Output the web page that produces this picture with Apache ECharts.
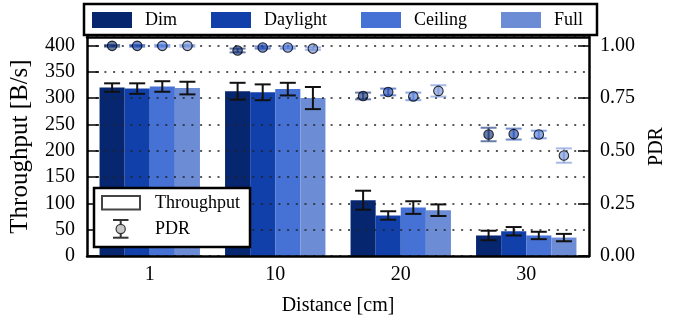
<!DOCTYPE html>
<html><head><meta charset="utf-8">
<script src="https://cdn.jsdelivr.net/npm/echarts@6/dist/echarts.min.js"></script>
<style>html,body{margin:0;padding:0;background:#fff}#c{width:675px;height:324px}</style>
</head><body><div id="c"></div>
<script>
const categories = ['1', '10', '20', '30'];
const seriesNames = ['Dim', 'Daylight', 'Ceiling', 'Full'];
const colors = ['#06266F', '#1240AB', '#4671D5', '#6C8CD5'];

const thrDim = [320, 313, 106, 39];
const thrDimErr = [8, 16, 18, 9];
const thrDaylight = [318, 311, 77, 47];
const thrDaylightErr = [10, 15, 8, 8];
const thrCeiling = [322, 317, 92, 39];
const thrCeilingErr = [10, 12, 12, 7];
const thrFull = [319, 300, 87, 35];
const thrFullErr = [12, 21, 11, 7];

const pdrDim = [0.998, 0.976, 0.760, 0.577];
const pdrDimErr = [0.004, 0.009, 0.016, 0.032];
const pdrDaylight = [0.998, 0.990, 0.779, 0.579];
const pdrDaylightErr = [0.004, 0.005, 0.016, 0.026];
const pdrCeiling = [0.998, 0.990, 0.758, 0.577];
const pdrCeilingErr = [0.004, 0.005, 0.018, 0.018];
const pdrFull = [0.998, 0.985, 0.784, 0.477];
const pdrFullErr = [0.004, 0.006, 0.027, 0.034];

const leftTicks = [0, 50, 100, 150, 200, 250, 300, 350, 400];
const rightTicks = [0, 0.25, 0.5, 0.75, 1.0];

const thr = [thrDim, thrDaylight, thrCeiling, thrFull];
const thrErr = [thrDimErr, thrDaylightErr, thrCeilingErr, thrFullErr];
const pdr = [pdrDim, pdrDaylight, pdrCeiling, pdrFull];
const pdrErr = [pdrDimErr, pdrDaylightErr, pdrCeilingErr, pdrFullErr];

const FONT = "'Liberation Serif', 'Times New Roman', serif";
const barFrac = 0.2;
function xpos(g, i) { return g + (i - 1.5) * barFrac; }

function hexA(hex, a) {
  const n = parseInt(hex.slice(1), 16);
  return 'rgba(' + ((n >> 16) & 255) + ',' + ((n >> 8) & 255) + ',' + (n & 255) + ',' + a + ')';
}

function errRender(color, lw, cap) {
  return function (params, api) {
    const x = api.value(0), v = api.value(1), e = api.value(2);
    const hi = api.coord([x, v + e]);
    const lo = api.coord([x, v - e]);
    const st = { stroke: color, lineWidth: lw };
    return {
      type: 'group',
      children: [
        { type: 'line', shape: { x1: hi[0], y1: hi[1], x2: lo[0], y2: lo[1] }, style: st },
        { type: 'line', shape: { x1: hi[0] - cap, y1: hi[1], x2: hi[0] + cap, y2: hi[1] }, style: st },
        { type: 'line', shape: { x1: lo[0] - cap, y1: lo[1], x2: lo[0] + cap, y2: lo[1] }, style: st }
      ]
    };
  };
}

const series = [];
seriesNames.forEach((name, i) => {
  series.push({
    name: name, type: 'bar', xAxisIndex: 0, yAxisIndex: 0,
    data: thr[i], barGap: 0, barCategoryGap: '20%',
    itemStyle: { color: colors[i] }, z: 2
  });
});
seriesNames.forEach((name, i) => {
  series.push({
    type: 'custom', xAxisIndex: 1, yAxisIndex: 0, z: 4,
    renderItem: errRender('#111', 2, 8),
    data: thr[i].map((v, g) => [xpos(g, i), v, thrErr[i][g]]),
    silent: true
  });
});
seriesNames.forEach((name, i) => {
  series.push({
    type: 'custom', xAxisIndex: 1, yAxisIndex: 1, z: 5,
    renderItem: errRender(hexA(colors[i], 0.6), 2, 8),
    data: pdr[i].map((v, g) => [xpos(g, i), v, pdrErr[i][g]]),
    silent: true
  });
  series.push({
    type: 'scatter', xAxisIndex: 1, yAxisIndex: 1, z: 6,
    symbol: 'circle', symbolSize: 9.5,
    itemStyle: { color: hexA(colors[i], 0.75), borderColor: '#000', borderWidth: 1.1 },
    data: pdr[i].map((v, g) => [xpos(g, i), v]),
    silent: true
  });
});

const GZ = 20;
const chart = echarts.init(document.getElementById('c'), null, { renderer: 'canvas' });
chart.setOption({
  animation: false,
  backgroundColor: '#fff',
  textStyle: { fontFamily: FONT },
  grid: { left: 85, right: 78, top: 37, bottom: 68, containLabel: false },
  legend: {
    data: seriesNames, left: 92, top: 11, orient: 'horizontal',
    itemWidth: 40, itemHeight: 16, itemGap: 34,
    icon: 'rect', padding: 0,
    textStyle: { fontFamily: FONT, fontSize: 18, color: '#000', padding: [0, 0, 0, 8] },
    selectedMode: false, z: 30
  },
  xAxis: [
    {
      type: 'category', data: categories, position: 'bottom', boundaryGap: true, z: 3,
      axisLine: { onZero: false, lineStyle: { color: '#000', width: 2.5 } },
      axisTick: { inside: true, alignWithLabel: true, length: 10, lineStyle: { color: '#000', width: 1.5 } },
      axisLabel: { fontFamily: FONT, fontSize: 20, color: '#000', margin: 9 },
      name: 'Distance [cm]', nameLocation: 'middle', nameGap: 40,
      nameTextStyle: { fontFamily: FONT, fontSize: 20, color: '#000' }
    },
    {
      type: 'value', min: -0.5, max: 3.5, position: 'top', z: 3,
      axisLine: { show: true, onZero: false, lineStyle: { color: '#000', width: 2.5 } },
      axisTick: { show: false }, axisLabel: { show: false }, splitLine: { show: false }
    }
  ],
  yAxis: [
    {
      type: 'value', min: 0, max: 416, interval: 50, position: 'left', z: 3,
      axisLine: { show: true, onZero: false, lineStyle: { color: '#000', width: 2.5 } },
      axisTick: { inside: true, length: 12, lineStyle: { color: '#000', width: 1.5 } },
      axisLabel: {
        fontFamily: FONT, fontSize: 20, color: '#000', margin: 12, showMaxLabel: false,
        formatter: v => (leftTicks.indexOf(v) >= 0 ? String(v) : '')
      },
      splitLine: { show: true, lineStyle: { color: '#222', width: 1.6, type: [2, 6.7] } },
      name: 'Throughput [B/s]', nameLocation: 'middle', nameGap: 54, nameRotate: 90,
      nameTextStyle: { fontFamily: FONT, fontSize: 25, color: '#000' }
    },
    {
      type: 'value', min: 0, max: 1.04, interval: 0.25, position: 'right', z: 3,
      axisLine: { show: true, onZero: false, lineStyle: { color: '#000', width: 2.5 } },
      axisTick: { inside: true, length: 11, lineStyle: { color: '#000', width: 1.5 } },
      axisLabel: {
        fontFamily: FONT, fontSize: 20, color: '#000', margin: 11, showMaxLabel: false,
        formatter: v => (rightTicks.indexOf(v) >= 0 ? v.toFixed(2) : '')
      },
      splitLine: { show: false },
      name: 'PDR', nameLocation: 'middle', nameGap: 58, nameRotate: 90,
      nameTextStyle: { fontFamily: FONT, fontSize: 20, color: '#000' }
    }
  ],
  graphic: [
    { type: 'rect', z: GZ, shape: { x: 84, y: 4, width: 513, height: 31 },
      style: { fill: '#fff', stroke: '#000', lineWidth: 2.5 } },
    { type: 'rect', z: GZ, shape: { x: 94, y: 188, width: 156, height: 59 },
      style: { fill: '#fff', stroke: '#000', lineWidth: 2.5 } },
    { type: 'rect', z: GZ + 1, shape: { x: 102, y: 196, width: 38, height: 13.5 },
      style: { fill: '#fff', stroke: '#444', lineWidth: 2 } },
    { type: 'text', z: GZ + 1, style: { x: 155, y: 203, text: 'Throughput', fontFamily: FONT, fontSize: 18,
      fill: '#000', verticalAlign: 'middle', align: 'left' } },
    { type: 'line', z: GZ + 1, shape: { x1: 120.7, y1: 220, x2: 120.7, y2: 237.7 }, style: { stroke: '#333', lineWidth: 2 } },
    { type: 'line', z: GZ + 1, shape: { x1: 113, y1: 220, x2: 128.5, y2: 220 }, style: { stroke: '#333', lineWidth: 2 } },
    { type: 'line', z: GZ + 1, shape: { x1: 113, y1: 237.7, x2: 128.5, y2: 237.7 }, style: { stroke: '#333', lineWidth: 2 } },
    { type: 'circle', z: GZ + 2, shape: { cx: 120.7, cy: 229, r: 4.6 }, style: { fill: '#c8c8c8', stroke: '#333', lineWidth: 1.2 } },
    { type: 'text', z: GZ + 1, style: { x: 155, y: 229, text: 'PDR', fontFamily: FONT, fontSize: 18,
      fill: '#000', verticalAlign: 'middle', align: 'left' } }
  ],
  series: series
});
</script>
</body></html>
